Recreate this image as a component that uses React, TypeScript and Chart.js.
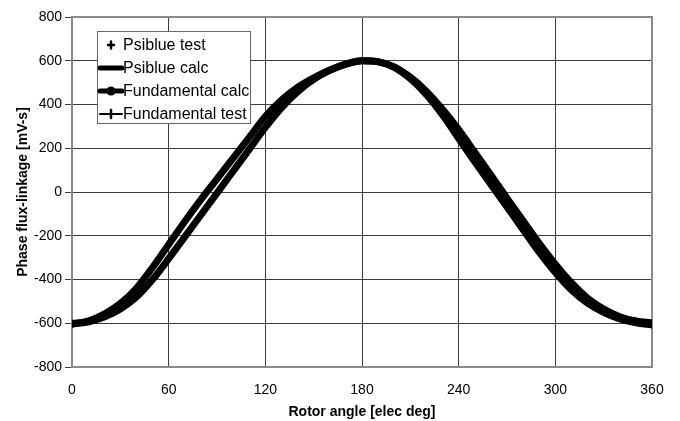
import React, { useEffect, useRef } from "react";
import { Chart, registerables } from "chart.js";

Chart.register(...registerables);

const angles = [0, 10, 20, 30, 40, 50, 60, 70, 80, 90, 100, 110, 120, 130, 140, 150, 160, 170, 180, 190, 200, 210, 220, 230, 240, 250, 260, 270, 280, 290, 300, 310, 320, 330, 340, 350, 360];

const psiblueCalc = [-605, -590, -558, -510, -440, -345, -240, -135, -35, 60, 155, 250, 345, 420, 478, 522, 558, 585, 600, 596, 570, 518, 445, 352, 245, 138, 35, -68, -172, -275, -368, -448, -508, -550, -580, -598, -608];
const psiblueTest = [-603, -592, -561, -513, -444, -349, -244, -139, -39, 56, 151, 246, 341, 417, 475, 520, 556, 583, 598, 594, 568, 515, 442, 348, 241, 134, 31, -72, -176, -279, -372, -451, -511, -552, -582, -600, -606];
const fundamentalCalc = [-600, -594, -572, -535, -480, -400, -305, -205, -105, -5, 95, 195, 295, 385, 458, 515, 556, 585, 600, 595, 572, 525, 460, 378, 285, 182, 78, -28, -132, -235, -330, -415, -485, -535, -570, -590, -598];
const fundamentalTest = [-602, -592, -569, -531, -476, -396, -301, -201, -101, -1, 99, 199, 299, 388, 460, 516, 556, 584, 598, 594, 570, 522, 457, 375, 282, 178, 74, -32, -136, -239, -333, -418, -487, -537, -572, -592, -600];

const xTicks = [0, 60, 120, 180, 240, 300, 360];
const yTicks = [-800, -600, -400, -200, 0, 200, 400, 600, 800];

const seriesLabels = ["Psiblue test", "Psiblue calc", "Fundamental calc", "Fundamental test"];

const FONT = "'Liberation Sans', Arial, Helvetica, sans-serif";

const toPoints = (vals: number[]) => angles.map((a, i) => ({ x: a, y: vals[i] }));

const borderPlugin = {
  id: "plotBorder",
  beforeDatasetsDraw(chart: any) {
    const { ctx, chartArea } = chart;
    const { left, top, right, bottom } = chartArea;
    ctx.save();
    ctx.strokeStyle = "#8a8a8a";
    ctx.lineWidth = 2;
    ctx.strokeRect(left, top, right - left, bottom - top);
    ctx.restore();
  },
};

const legendPlugin = {
  id: "boxLegend",
  afterDraw(chart: any) {
    const { ctx } = chart;
    const bx = 97, by = 31, bw = 153, bh = 92;
    ctx.save();
    ctx.fillStyle = "#ffffff";
    ctx.fillRect(bx, by, bw, bh);
    ctx.strokeStyle = "#666666";
    ctx.lineWidth = 1;
    ctx.strokeRect(bx + 0.5, by + 0.5, bw, bh);
    ctx.font = `16px ${FONT}`;
    ctx.textBaseline = "middle";
    const rows = [45, 68, 91, 114];
    const sx0 = 100, sx1 = 122, sm = 111;
    rows.forEach((y, i) => {
      ctx.strokeStyle = "#000";
      ctx.fillStyle = "#000";
      ctx.lineCap = "round";
      if (i === 0) {
        ctx.lineWidth = 2.5;
        ctx.beginPath();
        ctx.moveTo(sm - 3, y); ctx.lineTo(sm + 3, y);
        ctx.moveTo(sm, y - 3.5); ctx.lineTo(sm, y + 3.5);
        ctx.stroke();
      } else if (i === 1) {
        ctx.lineWidth = 5;
        ctx.beginPath(); ctx.moveTo(sx0, y); ctx.lineTo(sx1, y); ctx.stroke();
      } else if (i === 2) {
        ctx.lineWidth = 5;
        ctx.beginPath(); ctx.moveTo(sx0, y); ctx.lineTo(sx1, y); ctx.stroke();
        ctx.beginPath(); ctx.arc(sm, y, 4.5, 0, Math.PI * 2); ctx.fill();
      } else {
        ctx.lineWidth = 2;
        ctx.beginPath(); ctx.moveTo(sx0, y); ctx.lineTo(sx1, y); ctx.stroke();
        ctx.lineWidth = 2.5;
        ctx.beginPath(); ctx.moveTo(sm, y - 4); ctx.lineTo(sm, y + 4); ctx.stroke();
      }
      ctx.fillStyle = "#000";
      ctx.fillText(seriesLabels[i], 123, y + 1);
    });
    ctx.restore();
  },
};

export default function App() {
  const ref = useRef<HTMLCanvasElement | null>(null);
  useEffect(() => {
    document.body.style.margin = "0";
    const canvas = ref.current;
    if (!canvas) return;
    const chart = new Chart(canvas, {
      type: "line",
      data: {
        datasets: [
          {
            label: seriesLabels[0],
            data: toPoints(psiblueTest),
            showLine: false,
            pointStyle: "cross",
            pointRadius: 2.5,
            pointBorderWidth: 2,
            borderColor: "#000",
            backgroundColor: "#000",
          },
          {
            label: seriesLabels[1],
            data: toPoints(psiblueCalc),
            borderColor: "#000",
            borderWidth: 7,
            pointRadius: 0,
            cubicInterpolationMode: "monotone",
            borderCapStyle: "round",
          },
          {
            label: seriesLabels[2],
            data: toPoints(fundamentalCalc),
            borderColor: "#000",
            backgroundColor: "#000",
            borderWidth: 7,
            pointRadius: 0,
            cubicInterpolationMode: "monotone",
            borderCapStyle: "round",
          },
          {
            label: seriesLabels[3],
            data: toPoints(fundamentalTest),
            borderColor: "#000",
            backgroundColor: "#000",
            borderWidth: 2,
            pointRadius: 0,
            cubicInterpolationMode: "monotone",
          },
        ],
      },
      options: {
        animation: false,
        responsive: false,
        maintainAspectRatio: false,
        layout: { padding: { top: 17, right: 28, left: 0, bottom: 0 } },
        plugins: {
          legend: { display: false },
          tooltip: { enabled: false },
        },
        scales: {
          x: {
            type: "linear",
            min: 0,
            max: 360,
            afterBuildTicks: (s: any) => {
              s.ticks = xTicks.map((v) => ({ value: v }));
            },
            afterFit: (s: any) => {
              s.height = 54;
            },
            ticks: {
              color: "#000",
              font: { family: FONT, size: 14 },
              padding: 15,
              maxRotation: 0,
            },
            grid: { color: "#3c3c3c", lineWidth: 1, drawTicks: false },
            border: { display: false },
            title: {
              display: true,
              text: "Rotor angle [elec deg]",
              color: "#000",
              font: { family: FONT, size: 14, weight: "bold" },
              padding: { top: 0, bottom: 0 },
            },
          },
          y: {
            type: "linear",
            min: -800,
            max: 800,
            afterBuildTicks: (s: any) => {
              s.ticks = yTicks.map((v) => ({ value: v }));
            },
            afterFit: (s: any) => {
              s.width = 72;
            },
            ticks: {
              color: "#000",
              font: { family: FONT, size: 14 },
              padding: 3,
            },
            grid: { color: "#3c3c3c", lineWidth: 1, tickLength: 7, tickColor: "#3c3c3c" },
            border: { display: false },
            title: {
              display: true,
              text: "Phase flux-linkage [mV-s]",
              color: "#000",
              font: { family: FONT, size: 14, weight: "bold" },
              padding: { top: 15, bottom: 0 },
            },
          },
        },
      },
      plugins: [borderPlugin, legendPlugin],
    });
    return () => chart.destroy();
  }, []);
  return (
    <div style={{ width: 680, height: 421 }}>
      <canvas ref={ref} width={680} height={421} style={{ display: "block" }} />
    </div>
  );
}
